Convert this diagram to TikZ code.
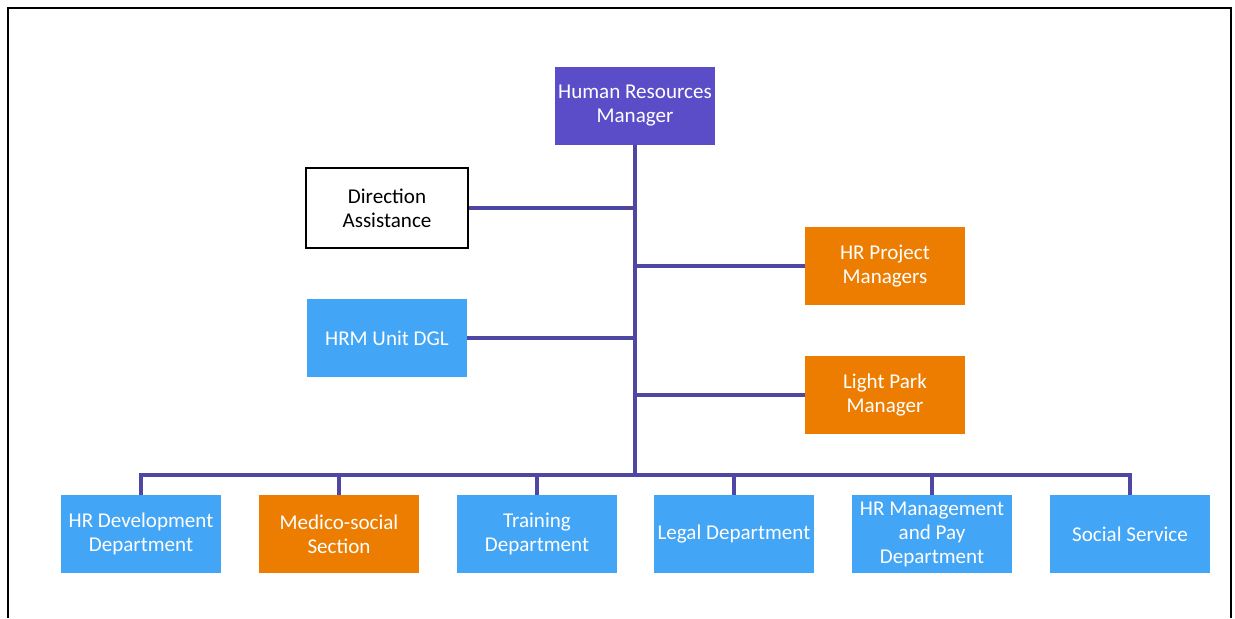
\documentclass[tikz,border=0pt]{standalone}
\usepackage{fontspec}
\setmainfont{Carlito}
\begin{document}
\definecolor{hrpurple}{RGB}{91,76,200}
\definecolor{hrorange}{RGB}{236,125,0}
\definecolor{hrblue}{RGB}{66,165,245}
\definecolor{linkcol}{RGB}{78,72,164}
\begin{tikzpicture}[x=0.75pt,y=-0.75pt,
  unit/.style={draw=none, minimum width=120pt, minimum height=58.5pt,
    inner sep=2pt, align=center, text=white, font=\fontsize{15.8}{18}\selectfont},
  purplebox/.style={unit, fill=hrpurple},
  orangebox/.style={unit, fill=hrorange},
  bluebox/.style={unit, fill=hrblue},
  plainbox/.style={unit, fill=white, draw=black, line width=1.5pt, text=black,
    minimum width=121pt, minimum height=60pt},
  link/.style={draw=linkcol, line width=2.6pt},
  frameline/.style={draw=black, line width=1.2pt}]
\useasboundingbox (0,0) rectangle (1235,618);
% outer frame, open at the bottom
\draw[frameline] (8,618) -- (8,8) -- (1231,8) -- (1231,618);

% manager and staff units
\node[purplebox] (hrm) at (635,106) {Human Resources\\Manager};
\node[plainbox] (da) at (387,208) {Direction\\Assistance};
\node[orangebox] (pm) at (885,266) {HR Project\\Managers};
\node[bluebox] (dgl) at (387,338) {HRM Unit DGL};
\node[orangebox] (lp) at (885,395) {Light Park\\Manager};

% departments
\node[bluebox] (dev) at (141,534) {HR Development\\Department};
\node[orangebox] (med) at (339,534) {Medico-social\\Section};
\node[bluebox] (trn) at (537,534) {Training\\Department};
\node[bluebox] (leg) at (734,534) {Legal Department};
\node[bluebox] (pay) at (932,534) {HR Management\\and Pay\\Department};
\node[bluebox] (soc) at (1130,534) {Social Service};

% trunk and bus
\coordinate (bus) at (635,475);
\draw[link] (hrm.south) -- (bus);
\draw[link] (da.east) -- (da.east -| bus);
\draw[link] (dgl.east) -- (dgl.east -| bus);
\draw[link] (pm.west) -- (pm.west -| bus);
\draw[link] (lp.west) -- (lp.west -| bus);
\draw[link] (dev.north) -- (dev.north |- bus) -- (soc.north |- bus) -- (soc.north);
\foreach \d in {med,trn,leg,pay}
  \draw[link] (\d.north) -- (\d.north |- bus);
\end{tikzpicture}
\end{document}
